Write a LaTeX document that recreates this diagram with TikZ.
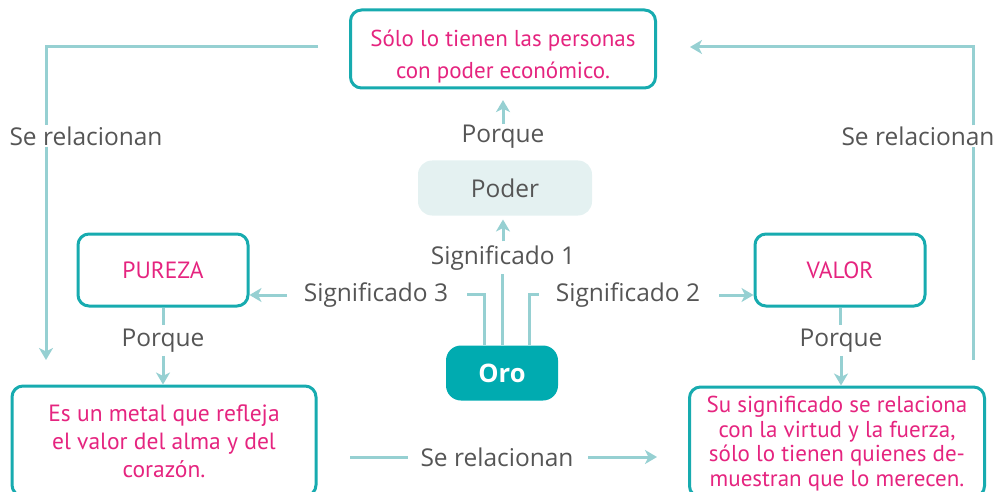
\documentclass[tikz,border=0pt]{standalone}
\usepackage{fontspec}
\setmainfont{Open Sans}
\newfontfamily\magfont{PT Sans}
\usetikzlibrary{arrows.meta}
\definecolor{bordc}{HTML}{17ABAF}
\definecolor{linec}{HTML}{96D0D2}
\definecolor{magc}{HTML}{E5247F}
\definecolor{grayc}{HTML}{555555}
\definecolor{poderc}{HTML}{E4F1F1}
\definecolor{oroc}{HTML}{00ABB0}
\tikzset{
  box/.style={draw=bordc, line width=3pt, rounded corners=11pt, text=magc, font=\magfont\fontsize{23.5}{28}\selectfont, align=center, inner sep=0pt},
  lbl/.style={text=grayc, font=\fontsize{24.5}{28}\selectfont, inner sep=1pt},
  conn/.style={draw=linec, line width=3pt},
  arr/.style={conn, -{Stealth[length=12pt,width=14pt,inset=3.5pt]}},
}
\begin{document}
\begin{tikzpicture}[x=1pt,y=-1pt]
\useasboundingbox (0,0) rectangle (996,492);
% boxes
\node[box, minimum width=305pt, minimum height=78pt, font=\magfont\fontsize{23}{32}\selectfont] (top) at (503,49) {\rule{0pt}{31pt}Sólo lo tienen las personas\\con poder económico.};
\node[fill=poderc, rounded corners=14pt, minimum width=174pt, minimum height=55pt, inner sep=0pt, text=grayc, font=\fontsize{24.5}{28}\selectfont] (poder) at (505,188) {Poder};
\node[fill=oroc, rounded corners=15pt, minimum width=112pt, minimum height=55pt, inner sep=0pt, text=white, font=\bfseries\fontsize{25.5}{30}\selectfont] (oro) at (502,373) {Oro};
\node[box, minimum width=170pt, minimum height=72pt] (pureza) at (163,270) {PUREZA};
\node[box, minimum width=170pt, minimum height=72pt] (valor) at (840,270) {VALOR};
\node[box, minimum width=304pt, minimum height=110pt, font=\magfont\fontsize{23.5}{28}\selectfont] (bl) at (164,441) {Es un metal que refleja\\el valor del alma y del\\corazón.};
\node[box, minimum width=295pt, minimum height=110pt, font=\magfont\fontsize{23}{24.5}\selectfont] (br) at (837,442) {\rule{0pt}{20pt}Su significado se relaciona\\con la virtud y la fuerza,\\sólo lo tienen quienes de-\\muestran que lo merecen.};
% labels
\node[lbl] (porq1) at (503,137) {Porque};
\node[lbl] (sig1) at (503,258) {Significado 1};
\node[lbl] (sig3) at (376,295) {Significado 3};
\node[lbl] (sig2) at (628,295) {Significado 2};
\node[lbl] (porqL) at (163,341) {Porque};
\node[lbl] (porqR) at (841,341) {Porque};
\node[lbl] (relL) at (86,136) {Se relacionan};
\node[lbl] (relR) at (918,136) {Se relacionan};
\node[lbl] (relB) at (497,457) {Se relacionan};
% coordinates
\coordinate (tlA) at (318,47);
\coordinate (tlB) at (46,47);
\coordinate (tlC) at (46,360);
\coordinate (trA) at (973,360);
\coordinate (trB) at (973,47);
\coordinate (trC) at (690,47);
\coordinate (bA) at (350,457);
\coordinate (bB) at (408,457);
\coordinate (bC) at (588,457);
\coordinate (bD) at (657,457);
% connectors
\draw[conn] (tlA) -- (tlB) -- (relL.north -| tlB);
\draw[arr] (relL.south -| tlB) -- (tlC);
\draw[conn] (trA) -- (relR.south -| trA);
\draw[arr] (relR.north -| trA) -- (trB) -- (trC);
\draw[conn] (bA) -- (bB);
\draw[arr] (bC) -- (bD);
\draw[arr] (porq1.north) -- ++(0,-24);
\draw[arr] (sig1.north) ++(0,-3) -- ++(0,-22);
\draw[conn] (oro.north) -- ++(0,-71);
\draw[conn] ([xshift=-18pt]oro.north) -- ++(0,-51) -- ++(-17,0);
\draw[conn] ([xshift=27pt]oro.north) -- ++(0,-51) -- ++(10,0);
\draw[arr] (287,295) -- (pureza.east |- 0,295);
\draw[arr] (719,295) -- (valor.west |- 0,295);
\draw[conn] (pureza.south) -- ++(0,17);
\draw[arr] (porqL.south) ++(0,2) -- (bl.north -| porqL) ;
\draw[conn] (valor.south) -- ++(0,17);
\draw[arr] (porqR.south) ++(0,2) -- (br.north -| porqR);
\end{tikzpicture}
\end{document}
